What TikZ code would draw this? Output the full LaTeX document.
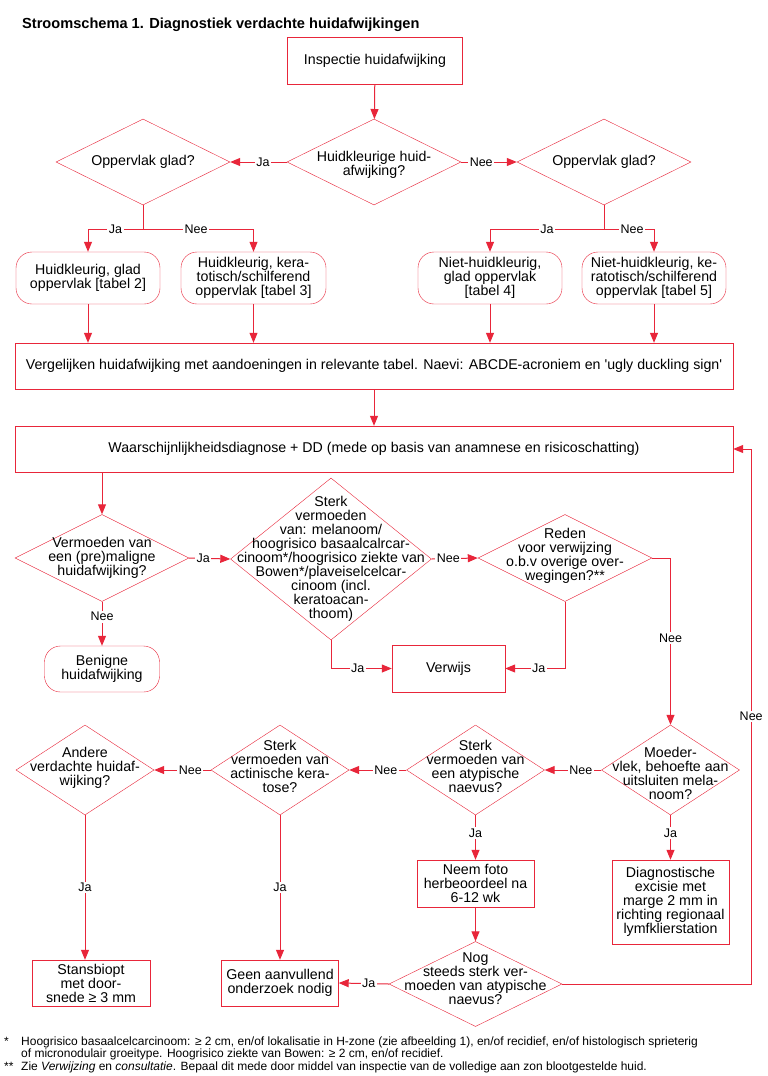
\documentclass[tikz,border=0pt]{standalone}
\usepackage{fontspec}
\setmainfont{Liberation Sans}
\usetikzlibrary{shapes.geometric,arrows.meta}
\definecolor{ared}{RGB}{232,38,58}
\newcommand{\fnt}{\fontsize{12}{11.8}\selectfont}
\tikzset{
  box/.style 2 args  = {shape=rectangle, draw=ared, align=center,
                        minimum width=#1, minimum height=#2, inner sep=1pt},
  rbox/.style 2 args = {box={#1}{#2}, rounded corners=16pt},
  dia/.style 2 args  = {shape=diamond, draw=ared, minimum width=#1,
                        minimum height=#2, inner sep=0pt},
  dtxt/.style        = {align=center, inner sep=0pt},
  lab/.style         = {fill=white, inner sep=1.5pt, font=\fontsize{12.5}{12.5}\selectfont},
  ln/.style          = {draw=ared, line width=1pt},
  arr/.style         = {ln, ->}
}
\begin{document}
\begin{tikzpicture}[x=1pt, y=-1pt, >={Triangle[length=10pt,width=8pt]},
  font=\fontsize{14.2}{14}\selectfont]
\fill[white] (0,0) rectangle (768,1076);
\useasboundingbox (0,0) rectangle (768,1076);

\node[anchor=west, inner sep=0pt, font=\bfseries\fontsize{14.6}{15}\selectfont] (title) at (22,25)
  {Stroomschema 1. Diagnostiek verdachte huidafwijkingen};

% inspectie en eerste vragen
\node[box={175}{47}] (insp) at (375,61) {Inspectie huidafwijking};
\node[dia={174}{86}] (huidQ) at (374,162) {};
\node[dtxt] (huidQT) at (374,165) {Huidkleurige huid-\\afwijking?};
\node[dia={174}{86}] (oppL) at (143,162) {};
\node[dtxt] (oppLT) at (oppL) {Oppervlak glad?};
\node[dia={174}{86}] (oppR) at (604,162) {};
\node[dtxt] (oppRT) at (oppR) {Oppervlak glad?};

\node[rbox={144}{52}] (h1) at (88,278) {Huidkleurig, glad\\oppervlak [tabel 2]};
\node[rbox={145}{52}] (h2) at (253.5,278) {Huidkleurig, kera-\\totisch/schilferend\\oppervlak [tabel 3]};
\node[rbox={144}{52}] (h3) at (490,278) {Niet-huidkleurig,\\glad oppervlak\\{[tabel 4]}};
\node[rbox={144}{52}] (h4) at (654,278) {Niet-huidkleurig, ke-\\ratotisch/schilferend\\oppervlak [tabel 5]};

\node[box={718}{46}] (verg) at (374,366)
  {Vergelijken huidafwijking met aandoeningen in relevante tabel. Naevi: ABCDE-acroniem en \textquotesingle ugly duckling sign\textquotesingle};
\node[box={718}{46}] (waar) at (374,449)
  {Waarschijnlijkheidsdiagnose + DD (mede op basis van anamnese en risicoschatting)};

% tweede rij vragen
\node[dia={174}{87}] (verm) at (102,558) {};
\node[dtxt] (vermT) at (verm) {Vermoeden van\\een (pre)maligne\\huidafwijking?};
\node[dia={201}{162}] (sterk) at (331,559) {};
\node[dtxt] (sterkT) at (sterk) {Sterk\\vermoeden\\van: melanoom/\\hoogrisico basaalcalrcar-\\cinoom*/hoogrisico ziekte van\\Bowen*/plaveiselcelcar-\\cinoom (incl.\\keratoacan-\\thoom)};
\node[dia={174}{87}] (reden) at (565,558) {};
\node[dtxt] (redenT) at (565,556) {Reden\\voor verwijzing\\o.b.v overige over-\\wegingen?**};
\node[rbox={115}{46}] (benigne) at (102,669) {Benigne\\huidafwijking};
\node[box={113}{47}] (verwijs) at (448.5,668.5) {Verwijs};

% derde rij vragen
\node[dia={138}{90}] (moeder) at (670.5,770) {};
\node[dtxt] (moederT) at (670.5,773) {Moeder-\\vlek, behoefte aan\\uitsluiten mela-\\noom?};
\node[dia={138}{90}] (atyp) at (475.5,770) {};
\node[dtxt] (atypT) at (475.5,766) {Sterk\\vermoeden van\\een atypische\\naevus?};
\node[dia={138}{90}] (actin) at (280,770) {};
\node[dtxt] (actinT) at (280,766) {Sterk\\vermoeden van\\actinische kera-\\tose?};
\node[dia={138}{90}] (andere) at (85,770) {};
\node[dtxt] (andereT) at (85,768) {Andere\\verdachte huidaf-\\wijking?};

\node[box={117}{47}] (foto) at (475.5,883.5) {Neem foto\\herbeoordeel na\\6-12 wk};
\node[box={117}{84}] (diagn) at (670.5,902) {Diagnostische\\excisie met\\marge 2 mm in\\richting regionaal\\lymfklierstation};
\node[dia={173}{85}] (nog) at (475.5,984) {};
\node[dtxt] (nogT) at (475.5,979) {Nog\\steeds sterk ver-\\moeden van atypische\\naevus?};
\node[box={117}{46}] (geen) at (280,983) {Geen aanvullend\\onderzoek nodig};
\node[box={118}{46}] (stans) at (91,983) {Stansbiopt\\met door-\\snede ≥ 3 mm};

% verbindingen boven
\draw[arr] (insp) -- (huidQ);
\draw[arr] (huidQ.west) -- node[lab,pos=.42]{Ja} (oppL.east);
\draw[arr] (huidQ.east) -- node[lab,pos=.36]{Nee} (oppR.west);
\draw[ln] (oppL.south) -- (oppL.south |- 0,229) coordinate (splitL);
\draw[arr] (splitL) -| node[lab,pos=.25]{Ja} (h1.north);
\draw[arr] (splitL) -| node[lab,pos=.24]{Nee} (h2.north);
\draw[ln] (oppR.south) -- (oppR.south |- 0,229) coordinate (splitR);
\draw[arr] (splitR) -| node[lab,pos=.25]{Ja} (h3.north);
\draw[arr] (splitR) -| node[lab,pos=.28]{Nee} (h4.north);
\foreach \b in {h1,h2,h3,h4}
  \draw[arr] (\b.south) -- (\b.south |- verg.north);
\draw[arr] (verg) -- (waar);

% verbindingen midden
\draw[arr] (verm.north |- waar.south) -- (verm.north);
\draw[arr] (verm.east) -- node[lab,pos=.34]{Ja} (sterk.west);
\draw[arr] (sterk.east) -- node[lab,pos=.36]{Nee} (reden.west);
\draw[arr] (verm.south) -- node[lab,pos=.34]{Nee} (benigne.north);
\draw[arr] (sterk.south) |- node[lab,pos=.72]{Ja} (verwijs.west);
\draw[arr] (reden.south) |- node[lab,pos=.72]{Ja} (verwijs.east);
\draw[arr] (reden.east) -| node[lab,pos=.74]{Nee} (moeder.north);

% verbindingen onder
\draw[arr] (moeder.west) -- node[lab,pos=.36]{Nee} (atyp.east);
\draw[arr] (atyp.west) -- node[lab,pos=.36]{Nee} (actin.east);
\draw[arr] (actin.west) -- node[lab,pos=.36]{Nee} (andere.east);
\draw[arr] (moeder.south) -- node[lab,pos=.4]{Ja} (diagn.north);
\draw[arr] (atyp.south) -- node[lab,pos=.4]{Ja} (foto.north);
\draw[arr] (actin.south) -- node[lab,pos=.5]{Ja} (geen.north);
\draw[arr] (andere.south) -- node[lab,pos=.5]{Ja} (andere.south |- stans.north);
\draw[arr] (foto) -- (nog);
\draw[arr] (nog.west) -- node[lab,pos=.4]{Ja} (geen.east);
\draw[arr] (nog.east) -| node[lab,pos=.75]{Nee} ([xshift=18pt]waar.east) -- (waar.east);

% voetnoten
\node[anchor=north west, inner sep=0pt, font=\fnt] (fnA) at (4,1037) {*};
\node[anchor=north west, inner sep=0pt, align=left, font=\fnt] (fnAT) at (21,1037)
  {Hoogrisico basaalcelcarcinoom: ≥ 2 cm, en/of lokalisatie in H-zone (zie afbeelding 1), en/of recidief, en/of histologisch sprieterig\\of micronodulair groeitype. Hoogrisico ziekte van Bowen: ≥ 2 cm, en/of recidief.};
\node[anchor=north west, inner sep=0pt, font=\fnt] (fnB) at (4,1062) {**};
\node[anchor=north west, inner sep=0pt, font=\fnt] (fnBT) at (21,1062)
  {Zie \textit{Verwijzing} en \textit{consultatie}. Bepaal dit mede door middel van inspectie van de volledige aan zon blootgestelde huid.};
\end{tikzpicture}
\end{document}
